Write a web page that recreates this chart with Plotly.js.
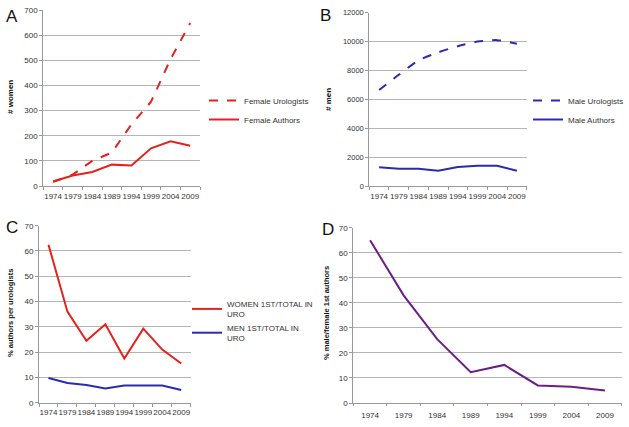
<!DOCTYPE html>
<html><head><meta charset="utf-8">
<script src="https://cdn.plot.ly/plotly-3.0.1.min.js"></script>
<style>html,body{margin:0;padding:0;background:#fff}#c{width:629px;height:427px}</style>
</head><body><div id="c"></div>
<script>
const years = ['1974','1979','1984','1989','1994','1999','2004','2009'];
const femaleUrologists = [17, 45, 100, 133, 245, 335, 505, 648];
const femaleAuthors = [18, 42, 56, 85, 82, 150, 178, 160];
const maleUrologists = [6650, 7700, 8700, 9250, 9680, 10000, 10100, 9850];
const maleAuthors = [1300, 1200, 1200, 1050, 1320, 1400, 1400, 1050];
const womenPct = [62.5, 36, 24.5, 31, 17.5, 29.3, 21, 15.5];
const menPct = [9.8, 7.8, 7, 5.6, 6.8, 6.8, 6.8, 5];
const ratioPct = [65, 43, 25.5, 12.3, 15.2, 7, 6.5, 5];

const W = 629, H = 427;
const px = v => v / W, py = v => 1 - v / H;
const RED = '#e3231b', BLUE = '#2b2bb0', PURPLE = '#6b1f86';
const FONT = 'Liberation Sans, Arial, sans-serif';

function xax(x0, x1, anchor) {
  return {domain:[px(x0), px(x1)], anchor: anchor, type:'category', range:[-0.5, 7.5],
    tickson:'boundaries', ticks:'outside', ticklen:3, tickcolor:'#999', showgrid:false,
    showline:true, linecolor:'#999', linewidth:1, zeroline:false, tickangle:0, ticklabelstandoff:2,
    tickfont:{family:FONT, size:8, color:'#333'}, fixedrange:true};
}
function yax(y0, y1, anchor, range, dtick, fs) {
  return {domain:[py(y1), py(y0)], anchor: anchor, range: range, dtick: dtick, tickformat:'d',
    ticks:'outside', ticklen:3, tickcolor:'#999', showgrid:true, gridcolor:'#b5b5b5', gridwidth:1,
    showline:true, linecolor:'#999', linewidth:1, zeroline:false,
    tickfont:{family:FONT, size:fs || 8, color:'#333'}, fixedrange:true};
}

const traces = [
  {x:years, y:femaleUrologists, name:'Female Urologists', mode:'lines', line:{color:RED, width:2, dash:'dash'}, xaxis:'x', yaxis:'y', legend:'legend'},
  {x:years, y:femaleAuthors, name:'Female Authors', mode:'lines', line:{color:RED, width:2}, xaxis:'x', yaxis:'y', legend:'legend'},
  {x:years, y:maleUrologists, name:'Male Urologists', mode:'lines', line:{color:BLUE, width:2, dash:'dash', shape:'spline', smoothing:0.6}, xaxis:'x2', yaxis:'y2', legend:'legend2'},
  {x:years, y:maleAuthors, name:'Male Authors', mode:'lines', line:{color:BLUE, width:2}, xaxis:'x2', yaxis:'y2', legend:'legend2'},
  {x:years, y:womenPct, name:'WOMEN 1ST/TOTAL IN<br>URO', mode:'lines', line:{color:RED, width:2}, xaxis:'x3', yaxis:'y3', legend:'legend3'},
  {x:years, y:menPct, name:'MEN 1ST/TOTAL IN<br>URO', mode:'lines', line:{color:BLUE, width:2}, xaxis:'x3', yaxis:'y3', legend:'legend3'},
  {x:years, y:ratioPct, name:'ratio', mode:'lines', line:{color:PURPLE, width:2}, xaxis:'x4', yaxis:'y4', showlegend:false}
];

const legFont = {family:FONT, size:8, color:'#333'};
const leg = (x, y) => ({x:px(x), y:py(y), xanchor:'left', yanchor:'top', bgcolor:'rgba(0,0,0,0)', font:legFont, tracegroupgap:0, itemwidth:30});
const letter = (t, x, y) => ({text:t, x:px(x), y:py(y), xref:'paper', yref:'paper', xanchor:'center', yanchor:'middle', showarrow:false, font:{family:FONT, size:17, color:'#111'}});
const ytitle = (t, x, y, fs) => ({text:t, x:px(x), y:py(y), xref:'paper', yref:'paper', xanchor:'center', yanchor:'middle', showarrow:false, textangle:-90, font:{family:FONT, size:fs, color:'#111', weight:'bold'}});

const layout = {
  width:W, height:H, margin:{l:0, r:0, t:0, b:0},
  paper_bgcolor:'#fff', plot_bgcolor:'#fff', showlegend:true,
  xaxis: xax(43.3, 200, 'y'),
  yaxis: yax(10, 186, 'x', [0, 700], 100),
  xaxis2: xax(369.3, 526.7, 'y2'),
  yaxis2: yax(12.7, 186, 'x2', [0, 12000], 2000, 7.5),
  xaxis3: xax(39, 190.7, 'y3'),
  yaxis3: yax(225.7, 402.7, 'x3', [0, 70], 10),
  xaxis4: Object.assign(xax(353.3, 621.7, 'y4'), {ticklen:2, ticklabelstandoff:4}),
  yaxis4: yax(227.7, 403, 'x4', [0, 70], 10),
  legend: leg(204, 86),
  legend2: leg(528, 86),
  legend3: leg(187, 292),
  annotations: [
    letter('A', 12, 16), letter('B', 325, 15), letter('C', 12, 227), letter('D', 328, 229),
    ytitle('# women', 10, 97, 8), ytitle('# men', 328, 100, 8),
    ytitle('% authors per urologists', 10, 313, 7.5), ytitle('% male/female 1st authors', 326, 313, 7.5)
  ]
};
Plotly.newPlot('c', traces, layout, {staticPlot:true, displayModeBar:false});
</script></body></html>
